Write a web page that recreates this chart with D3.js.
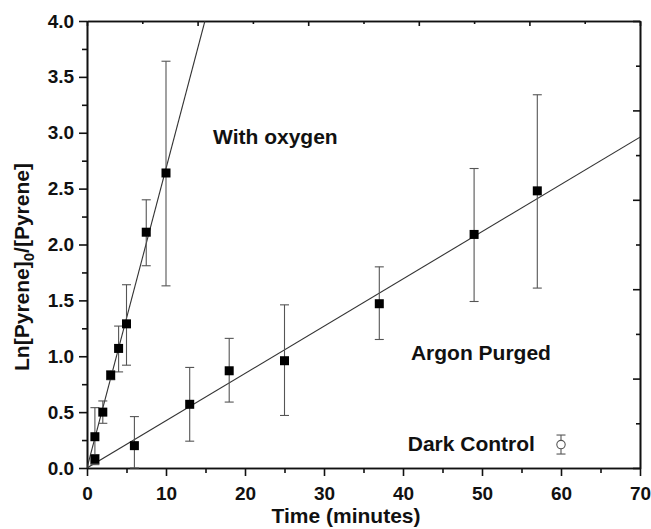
<!DOCTYPE html>
<html>
<head>
<meta charset="utf-8">
<script src="https://cdn.jsdelivr.net/npm/d3@7"></script>
<style>
  body { margin: 0; background: #fff; }
  svg text { font-family: "Liberation Sans", Arial, sans-serif; font-weight: bold; fill: #111; }
</style>
</head>
<body>
<svg id="chart"></svg>
<script>
// with oxygen
const oxygenTime = [1, 2, 3, 4, 5, 7.5, 10];
const oxygenValue = [0.28, 0.50, 0.83, 1.07, 1.29, 2.11, 2.64];
const oxygenErrHi = [0.54, 0.60, 0.87, 1.27, 1.64, 2.40, 3.64];
const oxygenErrLo = [0.03, 0.40, 0.79, 0.86, 0.92, 1.81, 1.63];

// argon purged
const argonTime = [1, 6, 13, 18, 25, 37, 49, 57];
const argonValue = [0.08, 0.20, 0.57, 0.87, 0.96, 1.47, 2.09, 2.48];
const argonErrHi = [0.12, 0.46, 0.90, 1.16, 1.46, 1.80, 2.68, 3.34];
const argonErrLo = [0.04, 0.00, 0.24, 0.59, 0.47, 1.15, 1.49, 1.61];

// dark control
const darkTime = [60];
const darkValue = [0.21];
const darkErrHi = [0.295];
const darkErrLo = [0.125];

// linear fits (slope, intercept)
const oxygenFit = [0.268, 0.0];
const argonFit = [0.0423, 0.0];

const xTicks = [0, 10, 20, 30, 40, 50, 60, 70];
const yTicks = [0, 0.5, 1.0, 1.5, 2.0, 2.5, 3.0, 3.5, 4.0];

const WIDTH = 651;
const HEIGHT = 529;
const MARGINS = { top: 21, right: 11, bottom: 61, left: 87 };
const PLOT_W = WIDTH - MARGINS.left - MARGINS.right;
const PLOT_H = HEIGHT - MARGINS.top - MARGINS.bottom;

const svg = d3.select('#chart')
  .attr('width', WIDTH)
  .attr('height', HEIGHT);

const chart = svg.append('g')
  .attr('transform', `translate(${MARGINS.left}, ${MARGINS.top})`);

const xScale = d3.scaleLinear().domain([0, 70]).range([0, PLOT_W]);
const yScale = d3.scaleLinear().domain([0, 4]).range([PLOT_H, 0]);

chart.append('clipPath').attr('id', 'plot-clip')
  .append('rect').attr('width', PLOT_W).attr('height', PLOT_H);

// bottom axis: majors every 10, minors every 5, outward
const xAxis = chart.append('g')
  .attr('transform', `translate(0, ${PLOT_H})`)
  .call(d3.axisBottom(xScale).tickValues(xTicks).tickSize(8).tickSizeOuter(0).tickFormat(d3.format('d')));
chart.append('g')
  .attr('transform', `translate(0, ${PLOT_H})`)
  .call(d3.axisBottom(xScale).tickValues(d3.range(5, 70, 10)).tickSize(5).tickSizeOuter(0).tickFormat(''));

// left axis: majors every 0.5, minors every 0.25, outward
const yAxis = chart.append('g')
  .call(d3.axisLeft(yScale).tickValues(yTicks).tickSize(8).tickSizeOuter(0).tickFormat(d3.format('.1f')));
chart.append('g')
  .call(d3.axisLeft(yScale).tickValues(d3.range(0.25, 4, 0.5)).tickSize(5).tickSizeOuter(0).tickFormat(''));

// top and right frame axes have their own 10-step spacing, ticks inward
const topScale = d3.scaleLinear().domain([0, 10]).range([0, PLOT_W]);
const rightScale = d3.scaleLinear().domain([0, 10]).range([PLOT_H, 0]);
chart.append('g')
  .call(d3.axisTop(topScale).tickValues(d3.range(0, 11, 2)).tickSize(-5).tickSizeOuter(0).tickFormat(''));
chart.append('g')
  .call(d3.axisTop(topScale).tickValues(d3.range(1, 10, 2)).tickSize(-3).tickSizeOuter(0).tickFormat(''));
chart.append('g')
  .attr('transform', `translate(${PLOT_W}, 0)`)
  .call(d3.axisRight(rightScale).tickValues(d3.range(0, 11, 2)).tickSize(-7).tickSizeOuter(0).tickFormat(''));
chart.append('g')
  .attr('transform', `translate(${PLOT_W}, 0)`)
  .call(d3.axisRight(rightScale).tickValues(d3.range(1, 10, 2)).tickSize(-4).tickSizeOuter(0).tickFormat(''));

chart.selectAll('.domain').attr('stroke', '#111').attr('stroke-width', 1.6);
chart.selectAll('.tick line').attr('stroke', '#111').attr('stroke-width', 1.6);

xAxis.selectAll('text').attr('font-size', '19px').attr('dy', '1.1em').attr('fill', '#111');
yAxis.selectAll('text').attr('font-size', '19px').attr('dx', '-0.1em').attr('fill', '#111');

// fit lines
const fitLine = (fit, x0, x1) => [[x0, fit[1] + fit[0] * x0], [x1, fit[1] + fit[0] * x1]];
const line = d3.line().x(d => xScale(d[0])).y(d => yScale(d[1]));
const fits = chart.append('g').attr('clip-path', 'url(#plot-clip)');
fits.append('path')
  .attr('d', line(fitLine(oxygenFit, 0, (4 - oxygenFit[1]) / oxygenFit[0])))
  .attr('fill', 'none').attr('stroke', '#333').attr('stroke-width', 1.1);
fits.append('path')
  .attr('d', line(fitLine(argonFit, 0, 70)))
  .attr('fill', 'none').attr('stroke', '#333').attr('stroke-width', 1.1);

const makeSeries = (times, values, hi, lo) =>
  times.map((t, i) => ({ t, v: values[i], hi: hi[i], lo: lo[i] }));

const drawErrorBars = (data) => {
  const g = chart.append('g').attr('stroke', '#555').attr('stroke-width', 1.1);
  g.selectAll('.bar-v').data(data).enter().append('line')
    .attr('x1', d => xScale(d.t)).attr('x2', d => xScale(d.t))
    .attr('y1', d => yScale(d.hi)).attr('y2', d => yScale(d.lo));
  g.selectAll('.cap-hi').data(data).enter().append('line')
    .attr('x1', d => xScale(d.t) - 4.5).attr('x2', d => xScale(d.t) + 4.5)
    .attr('y1', d => yScale(d.hi)).attr('y2', d => yScale(d.hi));
  g.selectAll('.cap-lo').data(data).enter().append('line')
    .attr('x1', d => xScale(d.t) - 4.5).attr('x2', d => xScale(d.t) + 4.5)
    .attr('y1', d => yScale(d.lo)).attr('y2', d => yScale(d.lo));
};

const oxygenData = makeSeries(oxygenTime, oxygenValue, oxygenErrHi, oxygenErrLo);
const argonData = makeSeries(argonTime, argonValue, argonErrHi, argonErrLo);
const darkData = makeSeries(darkTime, darkValue, darkErrHi, darkErrLo);

drawErrorBars(oxygenData);
drawErrorBars(argonData);
drawErrorBars(darkData);

const SQ = 9;
chart.append('g').selectAll('rect')
  .data(oxygenData.concat(argonData))
  .enter()
  .append('rect')
  .attr('x', d => xScale(d.t) - SQ / 2)
  .attr('y', d => yScale(d.v) - SQ / 2)
  .attr('width', SQ)
  .attr('height', SQ)
  .attr('fill', '#000');

chart.append('g').selectAll('circle')
  .data(darkData)
  .enter()
  .append('circle')
  .attr('cx', d => xScale(d.t))
  .attr('cy', d => yScale(d.v))
  .attr('r', 4.2)
  .attr('fill', '#fff')
  .attr('stroke', '#555')
  .attr('stroke-width', 1.1);

// series labels, placed in data coordinates
const annotations = [
  { text: 'With oxygen', t: 15.95, v: 2.9 },
  { text: 'Argon Purged', t: 41.0, v: 0.97 },
  { text: 'Dark Control', t: 40.6, v: 0.15 },
];
chart.selectAll('.annot')
  .data(annotations)
  .enter()
  .append('text')
  .attr('x', d => xScale(d.t))
  .attr('y', d => yScale(d.v))
  .attr('font-size', '21px')
  .text(d => d.text);

// axis titles
svg.append('text')
  .attr('x', 346)
  .attr('y', 523)
  .attr('text-anchor', 'middle')
  .attr('font-size', '21px')
  .text('Time (minutes)');

const yTitle = svg.append('text')
  .attr('transform', 'translate(29, 267) rotate(-90)')
  .attr('text-anchor', 'middle')
  .attr('font-size', '21px');
yTitle.append('tspan').text('Ln[Pyrene]');
yTitle.append('tspan').attr('font-size', '15px').attr('dy', 5).text('0');
yTitle.append('tspan').attr('dy', -5).text('/[Pyrene]');
</script>
</body>
</html>
